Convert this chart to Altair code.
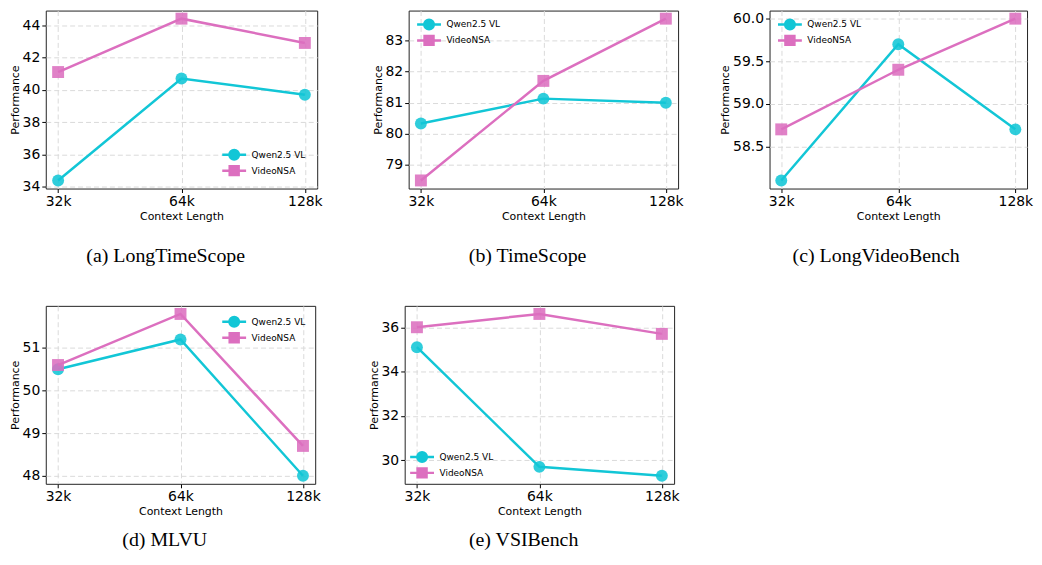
import altair as alt
import pandas as pd

contexts = ["32k", "64k", "128k"]
series_names = ["Qwen2.5 VL", "VideoNSA"]

captions = ["(a) LongTimeScope", "(b) TimeScope", "(c) LongVideoBench", "(d) MLVU", "(e) VSIBench"]

qwen_longtimescope = [34.4, 40.7, 39.7]
videonsa_longtimescope = [41.1, 44.4, 42.9]
qwen_timescope = [80.33, 81.13, 81.0]
videonsa_timescope = [78.5, 81.7, 83.7]
qwen_longvideobench = [58.1, 59.7, 58.7]
videonsa_longvideobench = [58.7, 59.4, 60.0]
qwen_mlvu = [50.5, 51.2, 48.0]
videonsa_mlvu = [50.6, 51.8, 48.7]
qwen_vsibench = [35.1, 29.7, 29.3]
videonsa_vsibench = [36.0, 36.6, 35.7]

ticks_longtimescope = [34, 36, 38, 40, 42, 44]
ticks_timescope = [79, 80, 81, 82, 83]
ticks_longvideobench = [58.5, 59.0, 59.5, 60.0]
ticks_mlvu = [48, 49, 50, 51]
ticks_vsibench = [30, 32, 34, 36]

# styling
colors = ["#12c6d6", "#dc6fbf"]
shapes = ["circle", "square"]
legend_paths = [
    "M-2,0H2M0.8,0A0.8,0.8,0,1,1,-0.8,0A0.8,0.8,0,1,1,0.8,0Z",
    "M-2,0H2M-0.75,-0.75H0.75V0.75H-0.75Z",
]
FONT = "DejaVu Sans"


def panel(q, v, ticks, fmt, caption, legend_orient, legend_offset, width, cap_offset):
    df = pd.DataFrame({
        "ctx": contexts * 2,
        "series": [s for s in series_names for _ in contexts],
        "value": q + v,
    })
    allv = q + v
    lo, hi = min(allv), max(allv)
    m = 0.05 * (hi - lo)
    x = alt.X("ctx:N", sort=contexts,
              scale=alt.Scale(type="point", padding=0.1),
              axis=alt.Axis(title="Context Length", labelAngle=0, grid=True))
    y = alt.Y("value:Q",
              scale=alt.Scale(domain=[lo - m, hi + m], nice=False, zero=False),
              axis=alt.Axis(title="Performance", values=ticks, format=fmt, grid=True))
    base = alt.Chart(df)
    layers = []
    for s, col, shp in zip(series_names, colors, shapes):
        sub = base.transform_filter(alt.datum.series == s)
        layers.append(sub.mark_line(color=col, strokeWidth=2.5).encode(x=x, y=y))
        layers.append(sub.mark_point(filled=True, shape=shp, size=144, color=col,
                                     opacity=0.88, strokeWidth=0).encode(x=x, y=y))
    leg = alt.Legend(title=None, orient=legend_orient, offset=legend_offset, padding=2,
                     labelFontSize=9, labelFont=FONT, symbolSize=144,
                     symbolStrokeWidth=2.5, symbolOpacity=1, symbolOffset=6,
                     labelOffset=10, rowPadding=2, clipHeight=14)
    legend_layer = base.transform_filter("false").mark_point(
        filled=True, strokeWidth=2.5, opacity=1).encode(
        x=x, y=y,
        color=alt.Color("series:N", scale=alt.Scale(domain=series_names, range=colors), legend=leg),
        stroke=alt.Stroke("series:N", scale=alt.Scale(domain=series_names, range=colors), legend=leg),
        shape=alt.Shape("series:N", scale=alt.Scale(domain=series_names, range=legend_paths), legend=leg),
    )
    return alt.layer(*layers, legend_layer).properties(
        width=width, height=179,
        title=alt.TitleParams(caption, orient="bottom", anchor="middle", frame="bounds",
                              font="Liberation Serif", fontSize=20, fontWeight="normal",
                              color="black", offset=cap_offset),
    )


pa = panel(qwen_longtimescope, videonsa_longtimescope, ticks_longtimescope, "d",
           captions[0], "bottom-right", 9, 273, 25)
pb = panel(qwen_timescope, videonsa_timescope, ticks_timescope, "d",
           captions[1], "top-left", 5, 271, 25)
pc = panel(qwen_longvideobench, videonsa_longvideobench, ticks_longvideobench, ".1f",
           captions[2], "top-left", 5, 259, 25)
pd_ = panel(qwen_mlvu, videonsa_mlvu, ticks_mlvu, "d",
            captions[3], "top-right", 7, 271, 14)
pe = panel(qwen_vsibench, videonsa_vsibench, ticks_vsibench, "d",
           captions[4], "bottom-left", 2, 271, 14)


def indep(c):
    return c.resolve_scale(
        color="independent", stroke="independent", shape="independent"
    ).resolve_legend(
        color="independent", stroke="independent", shape="independent"
    )


row1 = indep(alt.hconcat(pa, pb, pc, spacing=92, bounds="flush"))
row2 = indep(alt.hconcat(pd_, pe, spacing=90, bounds="flush"))

chart = indep(alt.vconcat(row1, row2, spacing=38)).properties(
    padding=0
).configure_view(
    stroke="#222222", strokeWidth=1
).configure_axis(
    domain=False, tickColor="black", tickSize=4, labelFont=FONT, labelFontSize=14,
    labelColor="black", labelPadding=2, titleFont=FONT, titleFontSize=11,
    titleFontWeight="normal", titleColor="black", gridColor="#dadada",
    gridDash=[5, 3], gridWidth=1
).configure_axisX(
    titlePadding=2
).configure_axisY(
    titlePadding=2
)

chart.save("out.html", embed_options={"renderer": "svg", "actions": False})
